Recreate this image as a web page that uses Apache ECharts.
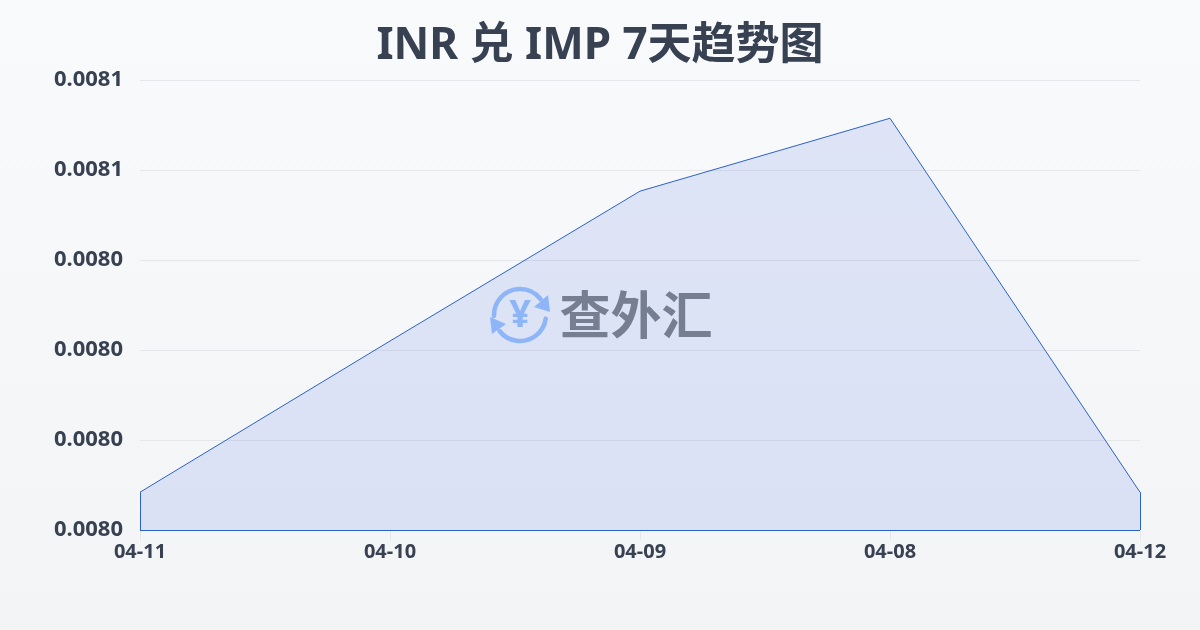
<!DOCTYPE html>
<html>
<head>
<meta charset="utf-8">
<title>INR 兑 IMP 7天趋势图</title>
<style>
  html, body { margin: 0; padding: 0; }
  #chart { width: 1200px; height: 630px; }
</style>
</head>
<body>
<div id="chart"></div>
<script src="https://cdn.jsdelivr.net/npm/echarts@6/dist/echarts.min.js"></script>
<script>
const titleText = 'INR 兑 IMP 7天趋势图';
const dates = ['04-11', '04-10', '04-09', '04-08', '04-12'];
const rates = [0.0079884, 0.008022, 0.0080553, 0.0080715, 0.0079884];
const axisMin = 0.00798;
const axisMax = 0.00808;
const axisStep = 0.00002;

const fontFamily = '"Noto Sans", "Noto Sans CJK SC", sans-serif';
const textColor = '#374151';
const lineColor = '#2b62c9';
const logoColor = '#8db5f7';

const chart = echarts.init(document.getElementById('chart'));

const deg = (d) => d * Math.PI / 180;

chart.setOption({
  animation: false,
  backgroundColor: new echarts.graphic.LinearGradient(0, 0, 0, 1, [
    { offset: 0, color: '#f8fafc' },
    { offset: 1, color: '#f3f4f6' }
  ]),
  title: {
    text: titleText,
    left: 'center',
    top: 19,
    textStyle: { color: textColor, fontSize: 44, fontWeight: 'bold', fontFamily }
  },
  grid: { left: 140, right: 60, top: 80, bottom: 100 },
  xAxis: {
    type: 'category',
    data: dates,
    boundaryGap: false,
    axisLine: { show: false },
    axisTick: { show: true, length: 10, lineStyle: { color: '#e5e7eb' } },
    axisLabel: {
      color: textColor, fontSize: 20, fontWeight: 'bold', fontFamily, margin: 12,
      hideOverlap: false, interval: 0,
      showMinLabel: true, showMaxLabel: true
    },
    splitLine: { show: false }
  },
  yAxis: {
    type: 'value',
    min: axisMin,
    max: axisMax,
    interval: axisStep,
    axisLine: { show: false },
    axisTick: { show: false },
    axisLabel: {
      color: textColor, fontSize: 22, fontWeight: 'bold', fontFamily, margin: 17,
      verticalAlign: 'middle', lineHeight: 26, padding: [0, 0, 5, 0],
      formatter: (v) => v.toFixed(4)
    },
    splitLine: { lineStyle: { color: '#e5e7eb', width: 1 } }
  },
  series: [{
    type: 'line',
    data: rates,
    symbol: 'none',
    silent: true,
    lineStyle: { color: lineColor, width: 1 },
    areaStyle: { color: 'rgba(45,90,225,0.125)', opacity: 1, origin: 'start' },
    markLine: {
      silent: true,
      symbol: 'none',
      label: { show: false },
      lineStyle: { color: lineColor, width: 1, type: 'solid' },
      data: [
        [{ xAxis: dates[0], yAxis: axisMin }, { xAxis: dates[0], yAxis: rates[0] }],
        [{ xAxis: dates[4], yAxis: axisMin }, { xAxis: dates[4], yAxis: rates[4] }],
        [{ xAxis: dates[0], yAxis: axisMin }, { xAxis: dates[4], yAxis: axisMin }]
      ]
    }
  }],
  graphic: [
    {
      type: 'arc', silent: true, z: 100,
      shape: { cx: 520, cy: 315, r: 26, startAngle: deg(178), endAngle: deg(322) },
      style: { fill: 'none', stroke: logoColor, lineWidth: 4.5, lineCap: 'round' }
    },
    {
      type: 'arc', silent: true, z: 100,
      shape: { cx: 520, cy: 315, r: 26, startAngle: deg(8), endAngle: deg(142) },
      style: { fill: 'none', stroke: logoColor, lineWidth: 4.5, lineCap: 'round' }
    },
    {
      type: 'polygon', silent: true, z: 100,
      shape: { points: [[550, 312], [548, 295], [534, 307]] },
      style: { fill: logoColor }
    },
    {
      type: 'polygon', silent: true, z: 100,
      shape: { points: [[490, 317], [492, 334], [506, 324]] },
      style: { fill: logoColor }
    },
    {
      type: 'text', silent: true, z: 100, x: 520, y: 316,
      style: {
        text: '¥', fill: logoColor, fontSize: 38, fontWeight: 'bold', fontFamily,
        align: 'center', verticalAlign: 'middle'
      }
    },
    {
      type: 'text', silent: true, z: 100, x: 636, y: 319,
      style: {
        text: '查外汇', fill: '#767f92', fontSize: 51, fontWeight: 'bold', fontFamily,
        align: 'center', verticalAlign: 'middle'
      }
    }
  ]
});

window.addEventListener('resize', () => chart.resize());
</script>
</body>
</html>
